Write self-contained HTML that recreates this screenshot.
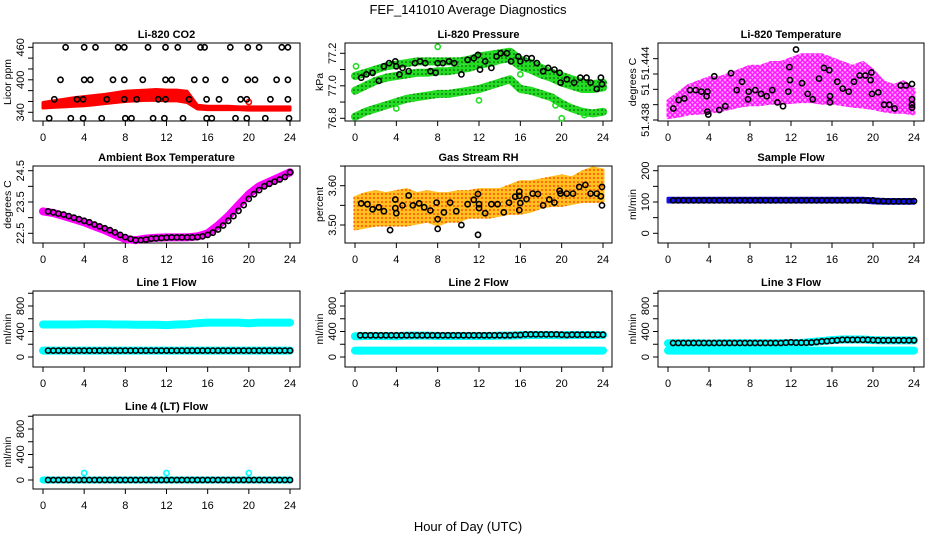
<!DOCTYPE html>
<html><head><meta charset="utf-8"><style>
html,body{margin:0;padding:0;background:#fff;}
svg{display:block;font-family:"Liberation Sans",sans-serif;}
</style></head><body>
<svg id="chart" width="936" height="540" viewBox="0 0 936 540" xmlns="http://www.w3.org/2000/svg">
<defs>
<pattern id="pMag" width="5" height="5" patternUnits="userSpaceOnUse"><rect width="5" height="5" fill="#ffb0ff"/><circle cx="2.5" cy="2.5" r="1.8" fill="none" stroke="#ff00ff" stroke-width="1.3"/></pattern>
<pattern id="pRH" width="4" height="4" patternUnits="userSpaceOnUse"><rect width="4" height="4" fill="#ffc020"/><circle cx="2" cy="2" r="0.9" fill="#ff3000"/></pattern>
<pattern id="pGreen" width="4" height="4" patternUnits="userSpaceOnUse"><rect width="4" height="4" fill="#22dd22"/><circle cx="2" cy="2" r="0.8" fill="#0a400a"/></pattern>
</defs>
<text x="468" y="14" text-anchor="middle" font-size="13">FEF_141010  Average Diagnostics</text>
<text x="468" y="531" text-anchor="middle" font-size="13">Hour of Day (UTC)</text>
</svg>
<script>
// ---------- data ----------
const hours = [0,1,2,3,4,5,6,7,8,9,10,11,12,13,14,15,16,17,18,19,20,21,22,23,24];
const co2Hi = [358,361,364,367,369,371,373,376,379,380,381,382,381,381,379,353,351,351,351,350,350,350,350,350,350];
const co2Lo = [348,349,350,351,352,354,356,358,360,361,362,362,361,361,358,346,345,345,345,345,344,344,344,344,344];
const co2BlackH = [2.2,4.0,5.1,7.3,7.9,10.2,11.9,13.1,15.3,15.7,18.2,19.9,21.0,23.2,23.8, 1.7,4.0,4.6,6.8,7.9,9.7,11.9,12.5,14.7,15.8,17.7,19.9,20.6,22.7,23.8, 1.1,3.3,3.9,6.2,7.9,9.1,11.2,11.9,14.2,15.9,17.1,19.2,19.8,22.1,23.8, 0.6,2.7,3.9,5.7,8.0,8.6,10.7,11.8,13.6,15.9,16.4,18.7,19.8,21.6,23.9];
const co2BlackV = [460,460,460,460,460,460,460,460,460,460,460,460,460,460,460, 400,400,400,400,400,400,400,400,400,400,400,400,400,400,400, 364,364,364,364,364,364,364,364,364,364,364,364,364,364,364, 329,329,329,329,329,329,329,329,329,329,329,329,329,329,329];

const presTop = [77.06,77.08,77.10,77.12,77.13,77.14,77.15,77.15,77.15,77.15,77.15,77.16,77.18,77.19,77.20,77.21,77.16,77.14,77.11,77.08,77.06,77.04,77.02,77.01,77.02];
const presMid = [76.97,77.00,77.03,77.05,77.06,77.07,77.08,77.08,77.09,77.09,77.10,77.11,77.13,77.14,77.16,77.17,77.12,77.10,77.07,77.05,77.02,77.00,76.98,76.98,76.99];
const presLow = [76.81,76.84,76.86,76.88,76.90,76.92,76.93,76.94,76.95,76.95,76.96,76.97,76.98,77.00,77.02,77.04,76.98,76.97,76.95,76.93,76.89,76.86,76.84,76.83,76.84];
const presBlack = [[0.6,77.05],[1.1,77.07],[1.7,77.08],[2.3,77.03],[2.8,77.12],[3.3,77.14],[3.9,77.15],[4,77.12],[4.3,77.07],[4.6,77.11],[5.2,77.09],[5.8,77.14],[6.3,77.15],[6.8,77.14],[7.3,77.09],[7.8,77.08],[8,77.14],[8.5,77.14],[9.1,77.15],[9.6,77.14],[10.3,77.07],[10.9,77.16],[11.5,77.17],[11.9,77.19],[12.1,77.1],[12.6,77.15],[13.2,77.11],[13.7,77.18],[14.1,77.2],[14.7,77.2],[15.1,77.15],[15.8,77.18],[16,77.15],[16.6,77.17],[17.1,77.17],[17.6,77.14],[18.2,77.09],[18.7,77.11],[19.3,77.1],[19.8,77.08],[19.9,77.02],[20.5,77.04],[21.2,77.02],[21.8,77.05],[22.4,77.05],[22.8,77.02],[23.4,76.98],[23.8,77.05],[23.9,77.01]];
const presOutliers = [[0.1,77.12],[4,76.86],[8,77.24],[12,76.91],[20,76.8],[22.2,76.82],[16,77.07],[19.4,76.88]];

const ltHi = [51.4405,51.4415,51.4425,51.443,51.4435,51.4435,51.444,51.4445,51.445,51.445,51.4455,51.4455,51.446,51.4465,51.4465,51.4465,51.446,51.4455,51.445,51.4455,51.4445,51.443,51.4425,51.443,51.442];
const ltLo = [51.4383,51.4385,51.4388,51.4389,51.439,51.4392,51.4395,51.4398,51.44,51.44,51.4402,51.4402,51.4403,51.4404,51.4404,51.4402,51.4402,51.44,51.4398,51.4397,51.4395,51.4392,51.439,51.439,51.4388];
const ltBlack = [[0.52,51.4395],[1.04,51.4406],[1.59,51.4408],[2.15,51.4419],[2.7,51.4419],[3.25,51.4417],[3.77,51.4411],[3.84,51.4417],[3.84,51.4391],[3.93,51.4387],[4.52,51.4437],[5.0,51.4393],[5.59,51.4398],[6.15,51.4441],[6.7,51.4419],[7.22,51.443],[7.8,51.4407],[7.87,51.4417],[8.52,51.4419],[9.07,51.4414],[9.63,51.4411],[10.18,51.4419],[10.67,51.4403],[11.22,51.4398],[11.74,51.4417],[11.84,51.4449],[11.9,51.4432],[12.49,51.4472],[13.07,51.4428],[13.63,51.4414],[14.12,51.4407],[14.73,51.4434],[15.22,51.4448],[15.74,51.4445],[15.8,51.4411],[15.8,51.4403],[16.52,51.443],[17.04,51.4421],[17.63,51.4417],[18.15,51.443],[18.7,51.4438],[19.25,51.4438],[19.77,51.4432],[19.84,51.4442],[19.9,51.4414],[20.52,51.4416],[21.07,51.44],[21.59,51.44],[22.11,51.4395],[22.7,51.4425],[23.22,51.4425],[23.8,51.4427],[23.8,51.4407],[23.8,51.44],[23.8,51.4396]];

const ambLine = [23.2,23.15,23.05,22.95,22.85,22.72,22.6,22.45,22.32,22.28,22.33,22.36,22.37,22.37,22.37,22.4,22.5,22.75,23.05,23.4,23.75,24.0,24.15,24.3,24.45];
const ambBlack = [23.2,23.17,23.13,23.1,23.05,23.0,22.95,22.9,22.85,22.78,22.72,22.66,22.6,22.53,22.45,22.38,22.32,22.28,22.28,22.3,22.33,22.34,22.35,22.36,22.37,22.37,22.37,22.37,22.37,22.38,22.4,22.45,22.52,22.62,22.75,22.9,23.05,23.22,23.4,23.6,23.75,23.88,24.0,24.08,24.15,24.22,24.3,24.45];
const halfHours = [0.5,1,1.5,2,2.5,3,3.5,4,4.5,5,5.5,6,6.5,7,7.5,8,8.5,9,9.5,10,10.5,11,11.5,12,12.5,13,13.5,14,14.5,15,15.5,16,16.5,17,17.5,18,18.5,19,19.5,20,20.5,21,21.5,22,22.5,23,23.5,24];

const rhHi = [3.57,3.58,3.585,3.58,3.585,3.59,3.58,3.585,3.58,3.58,3.585,3.585,3.59,3.59,3.59,3.6,3.61,3.61,3.615,3.62,3.625,3.62,3.635,3.645,3.64];
const rhLo = [3.49,3.495,3.5,3.5,3.5,3.5,3.505,3.51,3.5,3.51,3.51,3.52,3.52,3.52,3.525,3.53,3.53,3.535,3.545,3.55,3.55,3.555,3.56,3.56,3.56];
const rhBlack = [[0.6,3.555],[1.2,3.553],[1.7,3.54],[2.3,3.545],[2.8,3.535],[3.4,3.487],[3.9,3.565],[3.9,3.543],[4,3.53],[4.6,3.55],[5.2,3.575],[5.6,3.55],[6.2,3.555],[6.7,3.545],[7.3,3.537],[7.9,3.557],[8,3.515],[8,3.49],[8.6,3.532],[9.2,3.557],[9.8,3.535],[10.3,3.5],[10.9,3.553],[11.5,3.564],[11.9,3.579],[12,3.553],[12,3.543],[11.9,3.475],[12.6,3.53],[13.2,3.553],[13.8,3.553],[14.4,3.532],[14.9,3.557],[15.5,3.572],[15.9,3.574],[15.9,3.585],[16,3.556],[15.9,3.538],[16.6,3.566],[17.2,3.58],[17.7,3.579],[18.2,3.55],[18.8,3.565],[19.3,3.557],[19.8,3.587],[19.9,3.58],[20.5,3.58],[21.1,3.58],[21.7,3.597],[22.3,3.602],[22.8,3.58],[23.4,3.58],[23.8,3.573],[23.9,3.597],[23.9,3.55]];

const sfHi = [112,112,112,112,112,112,112,112,112,112,112,112,112,112,112,112,112,112,112,112,110,108,108,108,108];
const sfLo = [100,100,100,100,100,100,100,100,100,100,100,100,100,100,100,100,100,100,100,100,97,96,96,96,96];
const sfBlack = [105,105,105,105,105,105,105,105,105,105,105,105,105,105,105,105,105,105,105,105,105,105,105,105,105,105,105,105,105,105,105,105,105,105,105,105,105,105,105,105,103,103,102,102,102,102,102,103];

const l1Upper = [510,510,510,510,515,515,515,510,510,505,505,505,500,510,515,530,540,540,540,540,530,540,540,540,540];
const l1Black = [100,100,100,100,100,100,100,100,100,100,100,100,100,100,100,100,100,100,100,100,100,100,100,100,100,100,100,100,100,100,100,100,100,100,100,100,100,100,100,100,100,100,100,100,100,100,100,100];
const l2Upper = [325,330,330,330,325,335,335,335,330,330,330,330,330,330,335,335,340,345,345,345,340,345,345,345,345];
const l2Black = [340,340,340,340,340,340,340,340,340,340,340,340,340,340,340,340,340,340,340,340,340,340,340,340,340,340,340,340,340,340,345,345,355,355,355,355,355,355,355,350,345,350,350,350,350,350,350,350];
const l3Upper = [215,215,215,215,210,215,215,215,215,215,215,215,220,220,235,250,265,275,275,275,265,260,260,260,260];
const l3Black = [220,220,220,220,220,220,220,220,220,220,220,220,220,220,220,220,220,220,220,220,220,220,225,230,225,225,225,228,235,245,250,255,262,270,270,270,270,270,270,265,262,262,262,262,262,262,262,262];
const lowerFlow = [100,100,100,100,100,100,100,100,100,100,100,100,100,100,100,100,100,100,100,100,100,100,100,100,100];
const l4Line = [0,0,0,0,0,0,0,0,0,0,0,0,0,0,0,0,0,0,0,0,0,0,0,0,0];
const l4Black = [0,0,0,0,0,0,0,0,0,0,0,0,0,0,0,0,0,0,0,0,0,0,0,0,0,0,0,0,0,0,0,0,0,0,0,0,0,0,0,0,0,0,0,0,0,0,0,0];
const l4Outliers = [[4,110],[12,110],[20,110]];

// ---------- layout ----------
const svg = document.getElementById('chart');
const NS = 'http://www.w3.org/2000/svg';
const cols = [{l:33,r:300,x0:43,x24:290},{l:345,r:612,x0:355,x24:603},{l:658,r:924,x0:668,x24:914}];
const rows = [{t:43,b:121},{t:166,b:243},{t:291,b:367},{t:415,b:489}];
const xTicks = [0,4,8,12,16,20,24];
const flowTicks = [0,200,400,600,800,1000];
const flowLabels = [[0,'0'],[400,'400'],[800,'800']];

function mk(tag, attrs, parent){
  const e = document.createElementNS(NS, tag);
  for (const k in attrs) e.setAttribute(k, attrs[k]);
  (parent||svg).appendChild(e);
  return e;
}

function panel(cfg){
  const c = cols[cfg.col], r = rows[cfg.row];
  const g = mk('g', {});
  
  
  const xs = h => c.x0 + h * (c.x24 - c.x0) / 24;
  const ys = v => cfg.a[1] + (v - cfg.a[0]) * (cfg.a[3] - cfg.a[1]) / (cfg.a[2] - cfg.a[0]);
  const box = mk('rect', {x:c.l, y:r.t, width:c.r-c.l, height:r.b-r.t, fill:'none', stroke:'#000', 'stroke-width':1}, g);
  
  
  const title = mk('text', {x:(c.l+c.r)/2, y:r.t-5, 'text-anchor':'middle', 'font-size':11, 'font-weight':'bold'}, g);
  title.textContent = cfg.title;
  
  
  const yl = mk('text', {transform:`translate(${c.l-22},${(r.t+r.b)/2}) rotate(-90)`, 'text-anchor':'middle', 'font-size':10.5}, g);
  yl.textContent = cfg.ylab;
  
  
  xTicks.forEach(t => {
    const x = xs(t);
    const tk = mk('line', {x1:x, x2:x, y1:r.b, y2:r.b+5, stroke:'#000'}, g);
    
    
    const lb = mk('text', {x:x, y:r.b+20, 'text-anchor':'middle', 'font-size':11}, g);
    lb.textContent = String(t);
    
    
  });
  cfg.yt.forEach(v => {
    const y = ys(v);
    if (y < r.t - 0.5 || y > r.b + 0.5) return;
    const tk = mk('line', {x1:c.l-5, x2:c.l, y1:y, y2:y, stroke:'#000'}, g);
    
    
  });
  cfg.yl.forEach(p => {
    const lb = mk('text', {transform:`translate(${c.l-9},${ys(p[0])}) rotate(-90)`, 'text-anchor':'middle', 'font-size':11}, g);
    lb.textContent = p[1];
    
    
  });
  return {g, xs, ys};
}

function band(p, name, xsArr, lo, hi, fill){
  let d = '';
  xsArr.forEach((h,i) => { d += (i ? 'L' : 'M') + p.xs(h).toFixed(1) + ',' + p.ys(hi[i]).toFixed(1); });
  for (let i = xsArr.length - 1; i >= 0; i--) d += 'L' + p.xs(xsArr[i]).toFixed(1) + ',' + p.ys(lo[i]).toFixed(1);
  const e = mk('path', {d: d + 'Z', fill: fill, stroke: fill, 'stroke-width': 3, 'stroke-linejoin':'round'}, p.g);
  
  
}
function line(p, name, xsArr, vals, color, w){
  const pts = xsArr.map((h,i) => p.xs(h).toFixed(1) + ',' + p.ys(vals[i]).toFixed(1)).join(' ');
  const e = mk('polyline', {points: pts, fill:'none', stroke: color, 'stroke-width': w, 'stroke-linejoin':'round', 'stroke-linecap':'round'}, p.g);
  
  
}
function pt(p, name, h, v, color){
  const e = mk('circle', {cx: p.xs(h).toFixed(1), cy: p.ys(v).toFixed(1), r: 2.6, fill:'none', stroke: color, 'stroke-width': 1.6}, p.g);
  
  
}

// CO2
let p = panel({id:'co2', title:'Li-820 CO2', ylab:'Licor ppm', col:0, row:0, a:[460,47.3,340,112.3], yt:[340,360,380,400,420,440,460], yl:[[340,'340'],[400,'400'],[460,'460']]});
band(p, 'co2-data-band', hours, co2Lo, co2Hi, '#ff0000');
pt(p, 'co2-outlier-point', 20, 359, '#ff0000');
co2BlackH.forEach((h,i) => pt(p, 'co2-average-point', h, co2BlackV[i], '#000'));

// Pressure
p = panel({id:'pressure', title:'Li-820 Pressure', ylab:'kPa', col:1, row:0, a:[77.2,53.3,76.8,118.3], yt:[76.8,76.9,77.0,77.1,77.2], yl:[[76.8,'76.8'],[77.0,'77.0'],[77.2,'77.2']]});
line(p, 'pressure-top-band', hours, presTop, 'url(#pGreen)', 8);
line(p, 'pressure-mid-band', hours, presMid, 'url(#pGreen)', 8);
line(p, 'pressure-low-band', hours, presLow, 'url(#pGreen)', 8);
presOutliers.forEach(d => pt(p, 'pressure-outlier-point', d[0], d[1], '#22dd22'));
presBlack.forEach(d => pt(p, 'pressure-average-point', d[0], d[1], '#000'));

// Li-820 temperature
p = panel({id:'li-temp', title:'Li-820 Temperature', ylab:'degrees C', col:2, row:0, a:[51.444,74,51.438,120], yt:[51.438,51.44,51.442,51.444,51.446], yl:[[51.438,'51.438'],[51.442,'51'],[51.4454,'51.444']]});
band(p, 'li-temp-data-band', hours, ltLo, ltHi, 'url(#pMag)');
ltBlack.forEach(d => pt(p, 'li-temp-average-point', d[0], d[1], '#000'));

// Ambient
p = panel({id:'ambient', title:'Ambient Box Temperature', ylab:'degrees C', col:0, row:1, a:[24.5,170.7,22.5,233.3], yt:[22.5,23,23.5,24,24.5], yl:[[22.5,'22.5'],[23.5,'23.5'],[24.5,'24.5']]});
line(p, 'ambient-data-line', hours, ambLine, '#ff00ff', 8);
halfHours.forEach((h,i) => pt(p, 'ambient-average-point', h, ambBlack[i], '#000'));

// RH
p = panel({id:'rh', title:'Gas Stream RH', ylab:'percent', col:1, row:1, a:[3.60,185.7,3.50,225], yt:[3.5,3.55,3.6,3.65], yl:[[3.5,'3.50'],[3.6,'3.60']]});
band(p, 'rh-data-band', hours, rhLo, rhHi, 'url(#pRH)');
rhBlack.forEach(d => pt(p, 'rh-average-point', d[0], d[1], '#000'));

// Sample flow
p = panel({id:'sample-flow', title:'Sample Flow', ylab:'ml/min', col:2, row:1, a:[200,170.7,0,233.3], yt:[0,50,100,150,200], yl:[[0,'0'],[100,'100'],[200,'200']]});
band(p, 'sample-flow-band', hours, sfLo, sfHi, '#1010ee');
halfHours.forEach((h,i) => pt(p, 'sample-flow-average-point', h, sfBlack[i], '#000'));

// Line flows
const flowPanels = [
  {id:'line1', title:'Line 1 Flow', col:0, row:2, up:l1Upper, blk:l1Black},
  {id:'line2', title:'Line 2 Flow', col:1, row:2, up:l2Upper, blk:l2Black},
  {id:'line3', title:'Line 3 Flow', col:2, row:2, up:l3Upper, blk:l3Black}
];
flowPanels.forEach(f => {
  const q = panel({id:f.id, title:f.title, ylab:'ml/min', col:f.col, row:f.row, a:[800,306,0,357], yt:flowTicks, yl:flowLabels});
  line(q, f.id + '-upper-band', hours, f.up, '#00ffff', 8);
  line(q, f.id + '-lower-band', hours, lowerFlow, '#00ffff', 8);
  halfHours.forEach((h,i) => pt(q, f.id + '-average-point', h, f.blk[i], '#000'));
});

p = panel({id:'line4', title:'Line 4 (LT) Flow', ylab:'ml/min', col:0, row:3, a:[800,429,0,480], yt:flowTicks, yl:flowLabels});
line(p, 'line4-data-line', hours, l4Line, '#00ffff', 7);
l4Outliers.forEach(d => pt(p, 'line4-outlier-point', d[0], d[1], '#00ffff'));
halfHours.forEach((h,i) => pt(p, 'line4-average-point', h, l4Black[i], '#000'));
</script>
</body></html>
